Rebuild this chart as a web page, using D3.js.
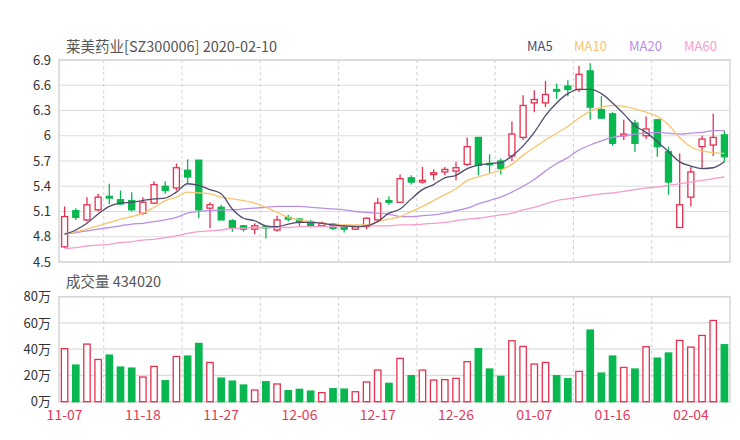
<!DOCTYPE html>
<html><head><meta charset="utf-8">
<script src="https://cdn.jsdelivr.net/npm/d3@7"></script>
<style>body{margin:0;background:#fff}svg{display:block}text{font-family:"Noto Sans CJK SC","Noto Sans",sans-serif}</style>
</head><body>
<svg id="c" width="740" height="440"></svg>
<script>
const dates = ["11-07","11-08","11-11","11-12","11-13","11-14","11-15","11-18","11-19","11-20","11-21","11-22","11-25","11-26","11-27","11-28","11-29",
"12-02","12-03","12-04","12-05","12-06","12-09","12-10","12-11","12-12","12-13","12-16","12-17","12-18","12-19","12-20","12-23","12-24","12-25","12-26","12-27","12-30","12-31",
"01-02","01-03","01-06","01-07","01-08","01-09","01-10","01-13","01-14","01-15","01-16","01-17","01-20","01-21","01-22","01-23",
"02-03","02-04","02-05","02-06","02-07"];
const open  = [4.68,5.11,5.00,5.12,5.28,5.24,5.23,5.08,5.20,5.40,5.38,5.59,5.71,5.14,5.15,4.99,4.93,4.89,4.92,4.88,5.03,5.01,4.98,4.93,4.95,4.93,4.89,4.92,5.00,5.23,5.21,5.50,5.45,5.54,5.57,5.58,5.66,5.98,5.67,5.70,5.76,5.98,6.39,6.39,6.55,6.59,6.55,6.77,6.31,6.26,6.00,6.15,6.00,6.19,5.81,4.91,5.27,5.87,5.89,6.01];
const close = [5.04,5.03,5.18,5.27,5.26,5.19,5.12,5.21,5.42,5.35,5.62,5.51,5.12,5.18,5.00,4.91,4.89,4.93,4.91,5.00,5.01,4.97,4.93,4.96,4.90,4.89,4.92,5.02,5.20,5.21,5.49,5.45,5.47,5.56,5.60,5.62,5.87,5.65,5.66,5.61,6.02,6.36,6.43,6.49,6.53,6.55,6.73,6.34,6.21,5.91,6.02,5.91,6.08,5.87,5.45,5.18,5.57,5.96,5.98,5.75];
const high  = [5.16,5.14,5.27,5.31,5.43,5.35,5.33,5.27,5.46,5.46,5.67,5.72,5.71,5.21,5.18,5.01,4.94,4.96,4.93,5.05,5.06,5.02,5.00,4.98,4.96,4.94,4.93,5.03,5.26,5.28,5.54,5.53,5.63,5.60,5.63,5.69,5.98,5.98,5.78,5.73,6.17,6.48,6.54,6.65,6.62,6.66,6.83,6.86,6.47,6.28,6.19,6.19,6.23,6.19,5.87,5.79,5.63,6.00,6.26,6.06];
const low   = [4.67,5.00,4.98,5.10,5.19,5.18,5.10,5.06,5.19,5.31,5.35,5.43,5.02,4.90,5.00,4.86,4.86,4.83,4.78,4.86,4.98,4.92,4.91,4.92,4.88,4.85,4.88,4.89,4.99,5.18,5.20,5.42,5.43,5.47,5.53,5.47,5.64,5.53,5.56,5.54,5.70,5.95,6.28,6.34,6.44,6.47,6.52,6.19,6.20,5.88,5.95,5.81,5.96,5.75,5.30,4.91,5.16,5.61,5.76,5.69];
const volume = [40.4,27.9,43.9,32.2,35.5,26.4,25.6,18.8,26.9,16.0,34.5,34.8,44.4,29.9,18.0,15.7,12.7,8.9,15.2,13.5,8.4,9.4,8.1,6.9,9.9,9.6,7.6,15.0,
24.1,14.0,33.0,19.8,24.1,16.5,16.8,17.8,30.5,40.4,24.9,19.3,46.4,42.1,28.7,29.9,19.8,17.5,23.1,54.6,21.8,34.8,26.1,24.9,41.9,33.2,37.1,46.7,41.6,50.5,61.9,43.402];
const ma5  = [4.83,4.88,4.96,5.07,5.16,5.20,5.21,5.23,5.25,5.26,5.33,5.43,5.41,5.36,5.31,5.13,5.02,4.99,4.93,4.92,4.95,4.97,4.97,4.96,4.94,4.93,4.92,4.93,4.98,5.08,5.13,5.25,5.36,5.42,5.50,5.53,5.61,5.65,5.67,5.68,5.76,5.88,6.04,6.24,6.39,6.50,6.55,6.55,6.50,6.39,6.26,6.12,6.04,5.93,5.81,5.69,5.64,5.61,5.62,5.69];
const ma10 = [4.83,4.86,4.89,4.93,4.97,5.01,5.04,5.08,5.15,5.23,5.27,5.33,5.32,5.31,5.27,5.25,5.23,5.20,5.15,5.09,5.03,5.00,4.98,4.96,4.94,4.94,4.94,4.94,4.98,5.01,5.04,5.10,5.16,5.23,5.30,5.37,5.47,5.51,5.55,5.59,5.66,5.77,5.86,5.95,6.03,6.11,6.21,6.29,6.34,6.36,6.35,6.32,6.28,6.23,6.13,5.98,5.87,5.82,5.80,5.79];
const ma20 = [4.83,4.85,4.87,4.89,4.91,4.93,4.95,4.96,4.98,5.00,5.03,5.08,5.10,5.11,5.12,5.12,5.13,5.14,5.15,5.16,5.16,5.16,5.15,5.14,5.13,5.12,5.10,5.09,5.08,5.07,5.04,5.04,5.05,5.06,5.08,5.11,5.14,5.19,5.23,5.27,5.33,5.40,5.48,5.58,5.67,5.74,5.83,5.89,5.94,5.98,6.00,6.02,6.03,6.04,6.03,6.02,6.03,6.04,6.06,6.06];
const ma60 = [4.66,4.67,4.69,4.70,4.71,4.73,4.74,4.76,4.77,4.79,4.81,4.84,4.86,4.87,4.88,4.90,4.90,4.91,4.91,4.91,4.91,4.92,4.92,4.92,4.92,4.92,4.93,4.93,4.93,4.93,4.94,4.94,4.95,4.96,4.97,4.99,5.01,5.02,5.04,5.06,5.08,5.12,5.15,5.19,5.23,5.25,5.27,5.29,5.31,5.32,5.34,5.36,5.38,5.39,5.41,5.43,5.45,5.47,5.49,5.51];
const priceTicks = [4.5,4.8,5.1,5.4,5.7,6.0,6.3,6.6,6.9];
const volTicks = [0,20,40,60,80];
const xTickLabels = ["11-07","11-18","11-27","12-06","12-17","12-26","01-07","01-16","02-04"];
const maNames = ["MA5","MA10","MA20","MA60"];
const maColors = ["#4f4b6e","#f9c46e","#b98ee6","#f79ccb"];
const titleText = "莱美药业[SZ300006] 2020-02-10";
const volTitle = "成交量 434020";

const UP = "#e8304e", DOWN = "#08b74f";
const svg = d3.select("#c");
const X0 = 59, X1 = 730;
const x = d3.scaleBand().domain(dates).range([X0, X1]).padding(0);
const bw = x.bandwidth();
const cx = d => x(d) + bw / 2;
const y = d3.scaleLinear().domain([4.5, 6.9]).range([262, 60]);
const yv = d3.scaleLinear().domain([0, 80]).range([401.7, 296.7]);

// titles
svg.append("text").attr("x", 66).attr("y", 52).attr("font-size", 14.5).attr("fill", "#555").text(titleText);
svg.append("text").attr("x", 66).attr("y", 287).attr("font-size", 14.5).attr("fill", "#555").text(volTitle);

// legend
const legX = [527, 574, 629, 684];
maNames.forEach((n, i) => {
  svg.append("text").attr("x", legX[i]).attr("y", 51).attr("font-size", 13).attr("fill", maColors[i]).text(n);
});

function panel(ys, ticks, fmt) {
  const g = svg.append("g");
  g.selectAll("line.h").data(ticks).join("line")
    .attr("x1", X0).attr("x2", X1).attr("y1", d => ys(d)).attr("y2", d => ys(d))
    .attr("stroke", "#dcdcdc").attr("stroke-width", 1.2);
  const vIdx = d3.range(4, dates.length, 7);
  g.selectAll("line.v").data(vIdx).join("line")
    .attr("x1", i => x(dates[i])).attr("x2", i => x(dates[i]))
    .attr("y1", ys.range()[1]).attr("y2", ys.range()[0])
    .attr("stroke", "#cfcfcf").attr("stroke-dasharray", "3,3");
  g.append("rect").attr("x", X0).attr("y", ys.range()[1]).attr("width", X1 - X0)
    .attr("height", ys.range()[0] - ys.range()[1]).attr("fill", "none")
    .attr("stroke", "#d6d6d6").attr("stroke-width", 1.5);
  const ax = svg.append("g").attr("transform", `translate(${X0 - 5},0)`)
    .call(d3.axisLeft(ys).tickValues(ticks).tickSize(0).tickFormat(fmt));
  ax.select(".domain").remove();
  ax.selectAll("text").attr("font-size", 13).attr("fill", "#333")
    .attr("font-family", '"Noto Sans CJK SC","Noto Sans",sans-serif');
}
panel(y, priceTicks, d => String(+d.toFixed(1)));
panel(yv, volTicks, d => d + "万");

// candles
const idx = d3.range(dates.length);
const up = i => close[i] >= open[i];
const cw = 6;
const cg = svg.append("g");
cg.selectAll("line.w").data(idx).join("line")
  .attr("x1", i => cx(dates[i])).attr("x2", i => cx(dates[i]))
  .attr("y1", i => y(high[i])).attr("y2", i => y(low[i]))
  .attr("stroke", i => up(i) ? UP : DOWN).attr("stroke-width", 1.3);
cg.selectAll("rect.b").data(idx).join("rect")
  .attr("x", i => cx(dates[i]) - cw / 2).attr("width", cw)
  .attr("y", i => y(Math.max(open[i], close[i])))
  .attr("height", i => Math.max(1.2, Math.abs(y(open[i]) - y(close[i]))))
  .attr("fill", i => up(i) ? "#fff" : DOWN)
  .attr("stroke", i => up(i) ? UP : DOWN).attr("stroke-width", 1.3);

// MA lines
const line = arr => d3.line().x((d, i) => cx(dates[i])).y(d => y(d)).curve(d3.curveMonotoneX)(arr);
[ma60, ma20, ma10, ma5].forEach((arr, k) => {
  const ci = 3 - k;
  svg.append("path").attr("d", line(arr)).attr("fill", "none")
    .attr("stroke", maColors[ci]).attr("stroke-width", 1.3);
});

// volume bars
const vw = 6.4;
svg.append("g").selectAll("rect").data(idx).join("rect")
  .attr("x", i => cx(dates[i]) - vw / 2).attr("width", vw)
  .attr("y", i => yv(volume[i])).attr("height", i => yv(0) - yv(volume[i]))
  .attr("fill", i => up(i) ? "#fff" : DOWN)
  .attr("stroke", i => up(i) ? UP : DOWN).attr("stroke-width", 1.3);

// x axis labels
const xa = svg.append("g").attr("transform", "translate(0,404)")
  .call(d3.axisBottom(x).tickValues(xTickLabels).tickSize(0).tickPadding(6));
xa.select(".domain").remove();
xa.selectAll("text").attr("font-size", 14).attr("fill", "#e8395a")
  .attr("font-family", '"Noto Sans CJK SC","Noto Sans",sans-serif');
</script>
</body></html>
